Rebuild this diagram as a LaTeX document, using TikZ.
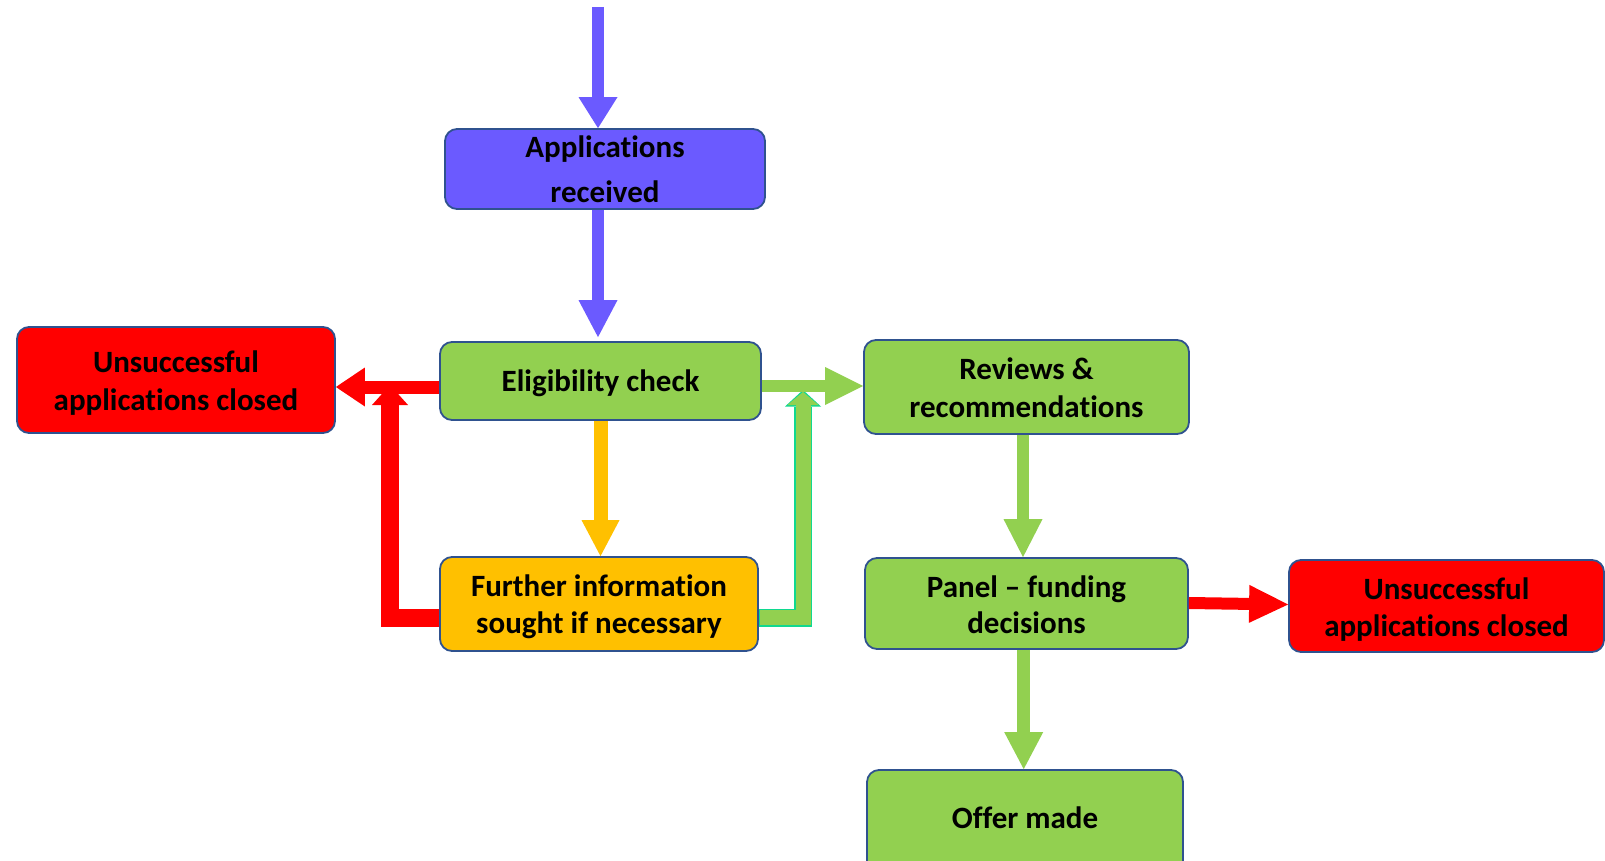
\documentclass[tikz,border=0pt]{standalone}
\usepackage{fontspec}
\setmainfont{Carlito}[Ligatures=NoCommon]
\usetikzlibrary{arrows.meta}
\definecolor{cpurple}{HTML}{6B5AFF}
\definecolor{cgreen}{HTML}{92D050}
\definecolor{cyellow}{HTML}{FFC000}
\definecolor{cred}{HTML}{FF0000}
\definecolor{cborder}{HTML}{2F528F}
\definecolor{cteal}{HTML}{10D890}
\tikzset{
  box/.style={draw=cborder, line width=1.8pt, rounded corners=12pt, align=center,
    inner sep=0pt, font=\fontsize{31}{38}\selectfont\bfseries},
  two/.style 2 args={font=\fontsize{31}{#1}\selectfont\bfseries, text height=#2, text depth=7pt},
  barrow/.style n args={3}{line width=#1, line join=miter,
    -{Triangle[width=#2,length=#3,line width=0pt]}},
}
\begin{document}
\begin{tikzpicture}[x=1pt,y=-1pt]
\useasboundingbox (0,0) rectangle (1605,861);
% nodes
\node[box, fill=cpurple, minimum width=320pt, minimum height=78pt, two={44}{73pt}] (app) at (605,169) {Applications\\received};
\node[box, fill=cgreen, minimum width=321pt, minimum height=78pt, text height=22pt, text depth=0.6pt] (elig) at (600.5,381) {Eligibility check};
\node[box, fill=cyellow, minimum width=318pt, minimum height=94pt, two={37}{65pt}] (further) at (599,604) {Further information\\sought if necessary};
\node[box, fill=cred, minimum width=318pt, minimum height=106pt, two={38}{67pt}] (unsL) at (176,380) {Unsuccessful\\applications closed};
\node[box, fill=cgreen, minimum width=325pt, minimum height=94pt, two={38}{67.6pt}] (reviews) at (1026.5,387) {Reviews \&\\recommendations};
\node[box, fill=cgreen, minimum width=323pt, minimum height=91pt, two={36}{66pt}] (panel) at (1026.5,603.5) {Panel -- funding\\decisions};
\node[box, fill=cred, minimum width=315pt, minimum height=92pt, two={37.5}{68pt}] (unsR) at (1446.5,606) {Unsuccessful\\applications closed};
\node[box, fill=cgreen, minimum width=316pt, minimum height=110pt, text height=22pt, text depth=16pt] (offer) at (1025,825) {Offer made};
% helper coordinates
\coordinate (inA) at (598,7);
\coordinate (rowE) at (0,386);
\coordinate (rowL) at (0,387);
\coordinate (loopR) at (390,618);
\coordinate (tipR) at (390,385);
\coordinate (loopG) at (803,617.5);
\coordinate (tipG) at (803,392);
\coordinate (tipGo) at (803,390);
\coordinate (cR) at (1023,0);
\coordinate (cP) at (1023.7,0);
\coordinate (rA) at (0,603);
\coordinate (rB) at (0,604.5);
% connectors
\draw[cpurple, barrow={12pt}{39pt}{31pt}] (inA) -- (inA |- app.north);
\draw[cpurple, barrow={12pt}{39pt}{37pt}, shorten >=4pt] (inA |- app.south) -- (inA |- elig.north);
\draw[cyellow, barrow={14pt}{38pt}{36pt}] (elig.south) -- (elig.south |- further.north);
\draw[cred, barrow={18pt}{36pt}{20pt}] (further.west |- loopR) -| (tipR);
\draw[cred, barrow={13pt}{39pt}{29pt}] (elig.west |- rowL) -- (unsL.east |- rowL);
\draw[cteal, barrow={18pt}{36pt}{16.5pt}] (further.east |- loopG) -| (tipGo);
\draw[cgreen, barrow={15pt}{31pt}{13pt}] ([xshift=1.5pt]further.east |- loopG) -| (tipG);
\draw[cgreen, barrow={12pt}{38pt}{38pt}] (elig.east |- rowE) -- (reviews.west |- rowE);
\draw[cgreen, barrow={12pt}{39pt}{38pt}] (cR |- reviews.south) -- (cR |- panel.north);
\draw[cgreen, barrow={13pt}{39pt}{37pt}] (cP |- panel.south) -- (cP |- offer.north);
\draw[cred, barrow={12pt}{38pt}{39pt}] (panel.east |- rA) -- (unsR.west |- rB);
\end{tikzpicture}
\end{document}
